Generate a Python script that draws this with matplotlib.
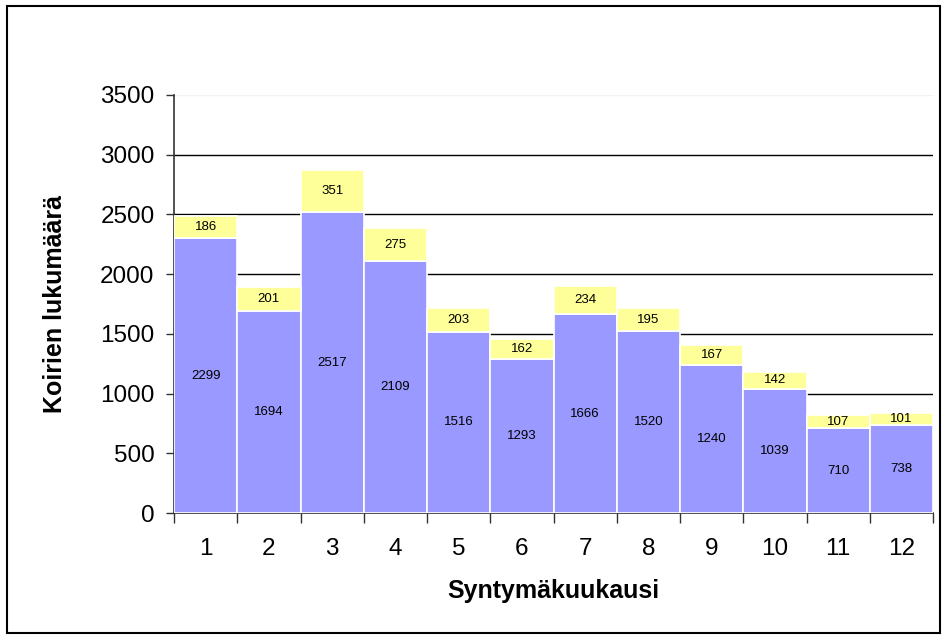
import matplotlib.pyplot as plt
from matplotlib.patches import Rectangle

plt.rcParams["font.family"] = ["Liberation Sans", "DejaVu Sans"]

months = [str(m) for m in range(1, 13)]
lower = [2299, 1694, 2517, 2109, 1516, 1293, 1666, 1520, 1240, 1039, 710, 738]
upper = [186, 201, 351, 275, 203, 162, 234, 195, 167, 142, 107, 101]
y_ticks = [0, 500, 1000, 1500, 2000, 2500, 3000, 3500]

fig = plt.figure(figsize=(9.46, 6.4), dpi=100)
ax = fig.add_axes([174 / 946, 1 - 513 / 640, (933 - 174) / 946, 418 / 640])

# outer chart frame
fig.patches.append(Rectangle((7 / 946, 1 - 633 / 640), 933 / 946, 627 / 640,
                             transform=fig.transFigure, fill=False,
                             edgecolor="black", linewidth=1.5))

x = list(range(len(months)))
ax.bar(x, lower, width=1.0, color="#9999FF", edgecolor="white", linewidth=1.2, zorder=3)
ax.bar(x, upper, width=1.0, bottom=lower, color="#FFFF99", edgecolor="white",
       linewidth=1.2, zorder=3)

for i in x:
    ax.text(i, lower[i] / 2, str(lower[i]), ha="center", va="center", fontsize=9.5, zorder=4)
    ax.text(i, lower[i] + upper[i] / 2, str(upper[i]), ha="center", va="center",
            fontsize=9.5, zorder=4)

ax.set_xlim(-0.5, 11.5)
ax.set_ylim(0, 3500)
ax.set_yticks(y_ticks)
ax.set_xticks(x)
ax.set_xticklabels(months)
ax.set_xticks([i - 0.5 for i in range(13)], minor=True)
ax.tick_params(axis="x", which="major", length=0, labelsize=17.5, pad=18)
ax.tick_params(axis="x", which="minor", length=7, width=1, color="#333333", direction="out")
ax.tick_params(axis="y", length=6, width=1, color="#333333", labelsize=17.5, pad=8)

# gridlines (top one at 3500 is almost invisible in the original)
for y in y_ticks[1:-1]:
    ax.axhline(y, color="black", linewidth=1, zorder=0)
ax.axhline(y_ticks[-1], color="#f2f2f2", linewidth=1, zorder=0)

for side in ["top", "right"]:
    ax.spines[side].set_visible(False)
for side in ["left", "bottom"]:
    ax.spines[side].set_color("#333333")
    ax.spines[side].set_linewidth(1.2)

ax.set_xlabel("Syntymäkuukausi", fontsize=18, fontweight="bold", labelpad=14)
ax.set_ylabel("Koirien lukumäärä", fontsize=18, fontweight="bold", labelpad=24)

fig.savefig("out.png", dpi=100)
